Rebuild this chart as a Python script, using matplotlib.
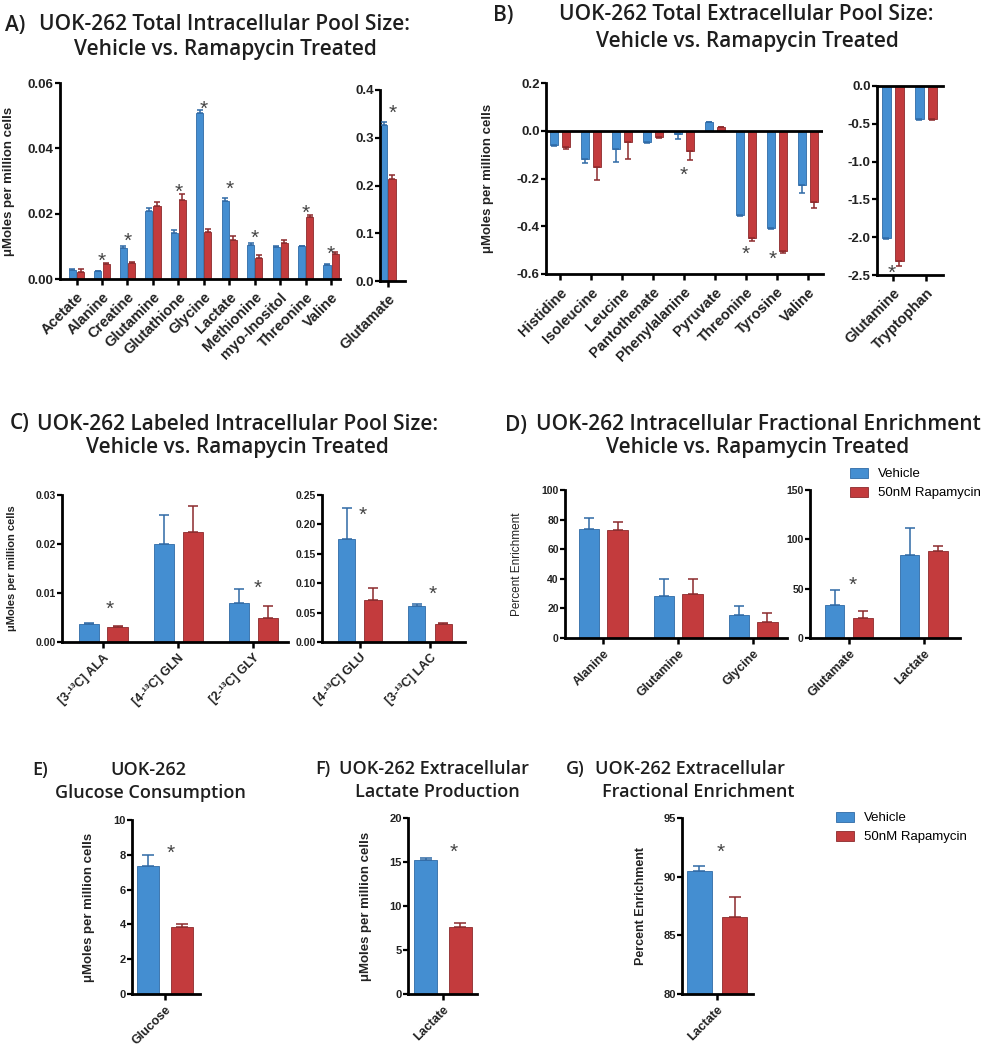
import numpy as np
import matplotlib
matplotlib.use('Agg')
import matplotlib.pyplot as plt
from matplotlib.patches import Patch

plt.rcParams['font.family'] = ['Liberation Sans', 'DejaVu Sans']
plt.rcParams['axes.unicode_minus'] = False

# ---------------- data ----------------
a_cats = ['Acetate', 'Alanine', 'Creatine', 'Glutamine', 'Glutathione', 'Glycine',
          'Lactate', 'Methionine', 'myo-Inositol', 'Threonine', 'Valine']
a_veh = [0.0027, 0.0023, 0.0095, 0.0207, 0.0141, 0.0508, 0.0238, 0.0105, 0.0097, 0.0100, 0.0043]
a_veh_err = [0.0003, 0.0002, 0.0005, 0.0010, 0.0010, 0.0010, 0.0010, 0.0004, 0.0005, 0.0002, 0.0003]
a_rap = [0.0020, 0.0046, 0.0049, 0.0222, 0.0243, 0.0144, 0.0120, 0.0064, 0.0110, 0.0190, 0.0076]
a_rap_err = [0.0010, 0.0002, 0.0003, 0.0015, 0.0017, 0.0008, 0.0012, 0.0010, 0.0010, 0.0005, 0.0007]
a_stars = [(1, 0.0074), (2, 0.0136), (4, 0.0284), (5, 0.0539), (6, 0.0294),
           (7, 0.0146), (9, 0.0221), (10, 0.0095)]

a2_cats = ['Glutamate']
a2_veh = [0.326]
a2_veh_err = [0.006]
a2_rap = [0.214]
a2_rap_err = [0.008]
a2_stars = [(0.17, 0.365)]

b_cats = ['Histidine', 'Isoleucine', 'Leucine', 'Pantothenate', 'Phenylalanine',
          'Pyruvate', 'Threonine', 'Tyrosine', 'Valine']
b_veh = [-0.058, -0.119, -0.077, -0.049, -0.014, 0.035, -0.352, -0.406, -0.227]
b_veh_err = [0.004, 0.017, 0.052, 0.003, 0.021, 0.003, 0.005, 0.005, 0.032]
b_rap = [-0.068, -0.150, -0.049, -0.028, -0.084, 0.015, -0.448, -0.502, -0.300]
b_rap_err = [0.007, 0.055, 0.070, 0.002, 0.040, 0.002, 0.012, 0.012, 0.024]
b_stars = [(4, -0.160), (6, -0.490), (6.87, -0.513)]

b2_cats = ['Glutamine', 'Tryptophan']
b2_veh = [-2.015, -0.440]
b2_veh_err = [0.010, 0.005]
b2_rap = [-2.315, -0.440]
b2_rap_err = [0.060, 0.005]
b2_stars = [(-0.05, -2.39)]

c1_cats = ['[3-\u00b9\u00b3C] ALA', '[4-\u00b9\u00b3C] GLN', '[2-\u00b9\u00b3C] GLY']
c1_veh = [0.0036, 0.0200, 0.0080]
c1_veh_err = [0.0002, 0.0060, 0.0028]
c1_rap = [0.0031, 0.0225, 0.0050]
c1_rap_err = [0.0001, 0.0053, 0.0024]
c1_stars = [(0.08, 0.0080), (2.05, 0.0123)]

c2_cats = ['[4-\u00b9\u00b3C] GLU', '[3-\u00b9\u00b3C] LAC']
c2_veh = [0.176, 0.061]
c2_veh_err = [0.052, 0.003]
c2_rap = [0.072, 0.031]
c2_rap_err = [0.019, 0.0015]
c2_stars = [(0.04, 0.227), (1.04, 0.093)]

d1_cats = ['Alanine', 'Glutamine', 'Glycine']
d1_veh = [73.4, 28.2, 15.3]
d1_veh_err = [8.0, 12.0, 6.1]
d1_rap = [72.9, 30.0, 10.6]
d1_rap_err = [5.4, 10.0, 6.6]

d2_cats = ['Glutamate', 'Lactate']
d2_veh = [33.9, 84.3]
d2_veh_err = [14.5, 27.0]
d2_rap = [20.7, 88.0]
d2_rap_err = [6.4, 5.5]
d2_stars = [(0.05, 60.0)]

e_cats = ['Glucose']
e_veh, e_veh_err, e_rap, e_rap_err = [7.38], [0.60], [3.83], [0.17]
e_stars = [(0.07, 8.47)]

f_cats = ['Lactate']
f_veh, f_veh_err, f_rap, f_rap_err = [15.18], [0.27], [7.67], [0.35]
f_stars = [(0.14, 16.85)]

g_cats = ['Lactate']
g_veh, g_veh_err, g_rap, g_rap_err = [90.45], [0.42], [86.60], [1.65]
g_stars = [(0.05, 92.6)]

series_names = ['Vehicle', '50nM Rapamycin']

# ---------------- style ----------------
W, H = 987, 1050
fig = plt.figure(figsize=(W / 100, H / 100), dpi=100)
BLUE, RED = '#448ed1', '#c33b3d'
BLUE_E, RED_E = '#2f6aa6', '#8c2a2c'
TFONT = ['Open Sans', 'DejaVu Sans']
TCOL = '#1e1e1e'


def px_ax(x0, x1, yt, yb):
    return fig.add_axes([x0 / W, 1 - yb / H, (x1 - x0) / W, (yb - yt) / H])


def pair_bars(ax, n, veh, veh_err, rap, rap_err, off, width, cap, elw=1.1):
    x = np.arange(n)
    for xs, v, e, fc, ec in ((x - off, veh, veh_err, BLUE, BLUE_E),
                             (x + off, rap, rap_err, RED, RED_E)):
        v = np.asarray(v, float)
        e = np.asarray(e, float)
        ax.bar(xs, v, width, color=fc, edgecolor=ec, linewidth=0.6, zorder=2)
        ax.errorbar(xs, v, yerr=[np.where(v < 0, e, 0), np.where(v >= 0, e, 0)],
                    fmt='none', ecolor=ec, elinewidth=elw, capsize=cap,
                    capthick=elw, zorder=3)


def style(ax, box, xlim, ylim, yticks, fmt, ytfs, cats, xfs, ylabel=None,
          ylab_px=None, ylfs=9, ylbold=True, xpad=3):
    x0, x1 = box
    ax.set_xlim(*xlim)
    ax.set_ylim(*ylim)
    ax.set_yticks(yticks)
    ax.set_yticklabels([fmt.format(t) for t in yticks], fontsize=ytfs,
                       fontweight='bold', color='#222222')
    ax.set_xticks(np.arange(len(cats)))
    ax.set_xticklabels(cats, rotation=45, ha='right', rotation_mode='anchor',
                       fontsize=xfs, fontweight='bold', color='#222222')
    for s in ('top', 'right'):
        ax.spines[s].set_visible(False)
    for s in ('left', 'bottom'):
        ax.spines[s].set_linewidth(2.0)
    ax.tick_params(axis='y', length=3.5, width=1.6, pad=1)
    ax.tick_params(axis='x', length=4, width=1.8, pad=xpad)
    ax.set_facecolor('none')
    if ylabel:
        ax.set_ylabel(ylabel, fontsize=ylfs,
                      fontweight='bold' if ylbold else 'normal', color='#222222')
        ax.yaxis.set_label_coords((ylab_px - x0) / (x1 - x0), 0.5)


def stars(ax, pts, fs=15):
    for x, y in pts:
        ax.annotate('*', (x, y), xytext=(0, -0.58 * fs), textcoords='offset points',
                    ha='center', va='baseline', fontsize=fs, color='#444444',
                    annotation_clip=False)


def title(x, y, s, fs=15, ha='center'):
    fig.text(x / W, 1 - y / H, s, fontsize=fs, ha=ha, va='center',
             family=TFONT, color=TCOL, fontweight='semibold')


YL = '\u03bcMoles per million cells'

# ---- A ----
box = (60, 340)
ax = px_ax(60, 340, 83, 279)
pair_bars(ax, len(a_cats), a_veh, a_veh_err, a_rap, a_rap_err, 0.16, 0.28, 2.2)
style(ax, box, (-0.65, 10.35), (0, 0.06), [0, 0.02, 0.04, 0.06], '{:.2f}', 9.5,
      a_cats, 10.5, YL, 15, 9.5, xpad=4)
stars(ax, a_stars)

box = (380, 405)
ax = px_ax(380, 405, 90, 281)
pair_bars(ax, 1, a2_veh, a2_veh_err, a2_rap, a2_rap_err, 0.16, 0.28, 2.2)
style(ax, box, (-0.31, 0.67), (0, 0.4), [0, 0.1, 0.2, 0.3, 0.4], '{:.1f}', 9.5,
      a2_cats, 10.5, xpad=4)
stars(ax, a2_stars)

# ---- B ----
box = (546, 823)
ax = px_ax(546, 823, 83, 274)
pair_bars(ax, len(b_cats), b_veh, b_veh_err, b_rap, b_rap_err, 0.2, 0.26, 2.2)
style(ax, box, (-0.45, 8.49), (-0.6, 0.2), [-0.6, -0.4, -0.2, 0.0, 0.2], '{:.1f}', 9.5,
      b_cats, 10.5, YL, 494, 9.5, xpad=4)
ax.axhline(0, color='black', lw=2.0, zorder=4)
stars(ax, b_stars)

box = (877, 943)
ax = px_ax(877, 943, 86, 275)
pair_bars(ax, 2, b2_veh, b2_veh_err, b2_rap, b2_rap_err, 0.2, 0.27, 2.2)
style(ax, box, (-0.48, 1.52), (-2.5, 0), [-2.5, -2.0, -1.5, -1.0, -0.5, 0.0], '{:.1f}', 9.5,
      b2_cats, 10.5, xpad=4)
ax.axhline(0, color='black', lw=2.0, zorder=4, clip_on=False)
stars(ax, b2_stars)

# ---- C ----
box = (62, 288)
ax = px_ax(62, 288, 495, 642)
pair_bars(ax, 3, c1_veh, c1_veh_err, c1_rap, c1_rap_err, 0.19, 0.27, 3.5)
style(ax, box, (-0.55, 2.46), (0, 0.03), [0, 0.01, 0.02, 0.03], '{:.2f}', 7.5,
      c1_cats, 9, YL, 17, 8)
stars(ax, c1_stars)

box = (322, 465)
ax = px_ax(322, 465, 495, 642)
pair_bars(ax, 2, c2_veh, c2_veh_err, c2_rap, c2_rap_err, 0.19, 0.25, 3.5)
style(ax, box, (-0.54, 1.5), (0, 0.25), [0, 0.05, 0.10, 0.15, 0.20, 0.25], '{:.2f}', 7.5,
      c2_cats, 9)
stars(ax, c2_stars)

# ---- D ----
box = (565, 787)
ax = px_ax(565, 787, 490, 638)
pair_bars(ax, 3, d1_veh, d1_veh_err, d1_rap, d1_rap_err, 0.19, 0.27, 3.5)
style(ax, box, (-0.51, 2.45), (0, 100), [0, 20, 40, 60, 80, 100], '{:.0f}', 7.5,
      d1_cats, 9, 'Percent Enrichment', 523, 8.5, False)

box = (810, 960)
ax = px_ax(810, 960, 490, 638)
pair_bars(ax, 2, d2_veh, d2_veh_err, d2_rap, d2_rap_err, 0.19, 0.26, 3.5)
style(ax, box, (-0.52, 1.48), (0, 150), [0, 50, 100, 150], '{:.0f}', 7.5,
      d2_cats, 9)
stars(ax, d2_stars)

# ---- E, F, G ----
box = (132, 200)
ax = px_ax(132, 200, 820, 994)
pair_bars(ax, 1, e_veh, e_veh_err, e_rap, e_rap_err, 0.227, 0.29, 4.5)
style(ax, box, (-0.44, 0.467), (0, 10), [0, 2, 4, 6, 8, 10], '{:.0f}', 8,
      e_cats, 9, YL, 95, 9.5)
stars(ax, e_stars)

box = (408, 477)
ax = px_ax(408, 477, 818, 994)
pair_bars(ax, 1, f_veh, f_veh_err, f_rap, f_rap_err, 0.23, 0.31, 4.5)
style(ax, box, (-0.467, 0.453), (0, 20), [0, 5, 10, 15, 20], '{:.0f}', 8,
      f_cats, 9, YL, 372, 9.5)
stars(ax, f_stars)

box = (682, 753)
ax = px_ax(682, 753, 818, 994)
pair_bars(ax, 1, g_veh, g_veh_err, g_rap, g_rap_err, 0.237, 0.33, 4.5)
style(ax, box, (-0.467, 0.48), (80, 95), [80, 85, 90, 95], '{:.0f}', 8,
      g_cats, 9, 'Percent Enrichment', 647, 9)
stars(ax, g_stars)

# ---------------- titles ----------------
title(5, 25, 'A)', ha='left')
title(225, 25, 'UOK-262 Total Intracellular Pool Size:')
title(225, 49, 'Vehicle vs. Ramapycin Treated')
title(493, 15, 'B)', ha='left')
title(746, 15, 'UOK-262 Total Extracellular Pool Size:')
title(747, 42, 'Vehicle vs. Ramapycin Treated')
title(10, 424, 'C)', ha='left')
title(238, 424, 'UOK-262 Labeled Intracellular Pool Size:')
title(237, 447, 'Vehicle vs. Ramapycin Treated')
title(505, 425, 'D)', ha='left')
title(758, 425, 'UOK-262 Intracellular Fractional Enrichment')
title(758, 447, 'Vehicle vs. Rapamycin Treated')
title(32, 770, 'E)', 13, ha='left')
title(148, 770, 'UOK-262', 13)
title(150, 793, 'Glucose Consumption', 13)
title(315, 769, 'F)', 13, ha='left')
title(434, 769, 'UOK-262 Extracellular', 13)
title(437, 792, 'Lactate Production', 13)
title(566, 769, 'G)', 13, ha='left')
title(690, 769, 'UOK-262 Extracellular', 13)
title(698, 792, 'Fractional Enrichment', 13)

# ---------------- legends ----------------
handles = [Patch(facecolor=BLUE, edgecolor=BLUE_E, linewidth=0.6),
           Patch(facecolor=RED, edgecolor=RED_E, linewidth=0.6)]
for lx, ly in ((850, 468), (836, 812)):
    fig.legend(handles, series_names, loc='upper left',
               bbox_to_anchor=(lx / W, 1 - ly / H), frameon=False, fontsize=9.5,
               handlelength=1.4, handleheight=0.75, handletextpad=0.75,
               labelspacing=0.5, borderpad=0, borderaxespad=0)

fig.savefig('out.png', dpi=100, facecolor='white')
